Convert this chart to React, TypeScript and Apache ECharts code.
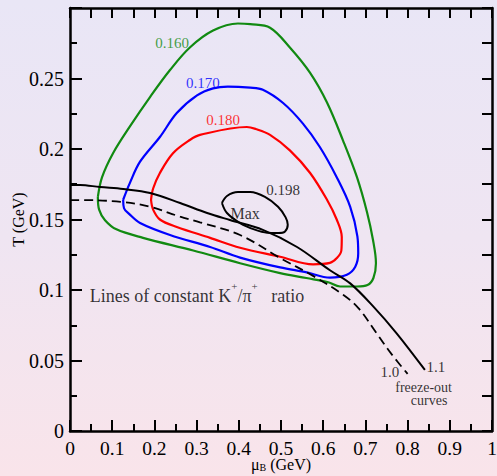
import React, { useEffect, useRef } from "react";
import * as echarts from "echarts";

type Pt = [number, number];

// Lines of constant K+/pi+ ratio in the (mu_B, T) plane, in GeV
const ratio0160: Pt[] = [
  [0.066, 0.166], [0.076, 0.18], [0.102, 0.197], [0.142, 0.216], [0.19, 0.237],
  [0.237, 0.256], [0.284, 0.272], [0.339, 0.284], [0.398, 0.289], [0.427, 0.2885],
  [0.474, 0.286], [0.521, 0.272], [0.569, 0.254], [0.609, 0.233], [0.647, 0.206],
  [0.68, 0.18], [0.704, 0.155], [0.718, 0.1355], [0.725, 0.119], [0.719, 0.1085],
  [0.705, 0.1035], [0.68, 0.1025], [0.64, 0.1025], [0.612, 0.1055], [0.56, 0.1085],
  [0.498, 0.112], [0.403, 0.119], [0.292, 0.128], [0.173, 0.137], [0.11, 0.143],
  [0.083, 0.1495], [0.069, 0.157], [0.066, 0.166],
];
const ratio0170: Pt[] = [
  [0.126, 0.164], [0.142, 0.176], [0.166, 0.191], [0.213, 0.2085], [0.253, 0.2255],
  [0.301, 0.238], [0.339, 0.243], [0.374, 0.2443], [0.427, 0.2435], [0.457, 0.242],
  [0.505, 0.2326], [0.552, 0.218], [0.592, 0.2014], [0.632, 0.18], [0.664, 0.159],
  [0.681, 0.138], [0.683, 0.126], [0.676, 0.1165], [0.656, 0.1108], [0.616, 0.1088],
  [0.561, 0.1125], [0.498, 0.116], [0.403, 0.123], [0.332, 0.1305], [0.237, 0.139],
  [0.166, 0.1475], [0.14, 0.154], [0.128, 0.158], [0.126, 0.164],
];
const ratio0180: Pt[] = [
  [0.192, 0.164], [0.197, 0.172], [0.213, 0.183], [0.244, 0.197], [0.284, 0.2064],
  [0.308, 0.21], [0.419, 0.2156], [0.44, 0.2142], [0.474, 0.21], [0.521, 0.199],
  [0.569, 0.183], [0.609, 0.164], [0.632, 0.15], [0.644, 0.1376], [0.643, 0.128],
  [0.633, 0.1228], [0.616, 0.1192], [0.576, 0.1182], [0.498, 0.1236], [0.403, 0.13],
  [0.332, 0.137], [0.253, 0.1447], [0.213, 0.15], [0.197, 0.157], [0.192, 0.164],
];
const ratio0198: Pt[] = [
  [0.36, 0.1617], [0.372, 0.1667], [0.398, 0.1695], [0.427, 0.1695], [0.462, 0.166],
  [0.493, 0.159], [0.511, 0.1515], [0.516, 0.1462], [0.509, 0.1414], [0.494, 0.1404],
  [0.467, 0.1406], [0.438, 0.1428], [0.403, 0.1475], [0.372, 0.1546], [0.36, 0.1617],
];

// Freeze-out curves
const freezeOut11: Pt[] = [
  [0, 0.1745], [0.024, 0.1745], [0.071, 0.173], [0.126, 0.1716], [0.19, 0.1688],
  [0.261, 0.1617], [0.325, 0.1546], [0.379, 0.1496], [0.457, 0.1426], [0.538, 0.1305],
  [0.616, 0.114], [0.664, 0.1047], [0.719, 0.0882], [0.774, 0.0693], [0.841, 0.0433],
];
const freezeOut10: Pt[] = [
  [0, 0.1638], [0.024, 0.1638], [0.126, 0.1624], [0.19, 0.159], [0.261, 0.152],
  [0.308, 0.148], [0.403, 0.139], [0.498, 0.1227], [0.576, 0.11], [0.648, 0.0965],
  [0.684, 0.087], [0.726, 0.0695], [0.762, 0.0545], [0.8, 0.0405],
];

// Text anchors (mu_B, T)
const contourLabels: [string, number, number][] = [
  ["0.160", 0.242, 0.275],
  ["0.170", 0.315, 0.247],
  ["0.180", 0.363, 0.2206],
  ["0.198", 0.505, 0.171],
];
const maxLabel: [string, number, number] = ["Max", 0.415, 0.1546];
const curveLabels: [string, number, number][] = [
  ["1.0", 0.758, 0.0418],
  ["1.1", 0.867, 0.0454],
  ["freeze-out", 0.838, 0.0312],
  ["curves", 0.851, 0.0213],
];
const ratioTitleAnchor: Pt = [0.047, 0.0979];

const SERIF = "Times New Roman, Liberation Serif, serif";
const GREEN = "#118a11";
const BLUE = "#0000ff";
const RED = "#ff0000";
const BLACK = "#000000";
const contourColors = [GREEN, BLUE, RED, BLACK];

export default function App() {
  const ref = useRef<HTMLDivElement>(null);

  useEffect(() => {
    if (!ref.current) return;
    const chart = echarts.init(ref.current, undefined, { renderer: "svg" });

    const axisLine = { show: true, onZero: false, lineStyle: { color: BLACK, width: 2.5 } };
    const tickStyle = { color: BLACK, width: 2 };

    const lineSeries = (data: Pt[], color: string, width: number, dashed = false) => ({
      type: "line",
      data,
      showSymbol: false,
      smooth: 0.35,
      silent: true,
      lineStyle: { color, width, type: dashed ? [9, 5] : "solid" },
      z: 3,
    });

    const textItem = (t: [string, number, number], color: string, size: number) => ({
      value: [t[1], t[2]],
      label: {
        show: true,
        position: "inside",
        formatter: t[0],
        color,
        fontSize: size,
        lineHeight: size,
        align: "center",
        fontFamily: SERIF,
      },
    });

    chart.setOption({
      animation: false,
      backgroundColor: "transparent",
      textStyle: { fontFamily: SERIF },
      grid: { left: 70, right: 5, top: 8, bottom: 45, containLabel: false, outerBoundsMode: "none" },
      xAxis: [
        {
          type: "value",
          min: 0,
          max: 1,
          interval: 0.1,
          position: "bottom",
          axisLine,
          axisTick: { show: true, inside: true, length: 11, lineStyle: tickStyle },
          minorTick: { show: true, splitNumber: 2, length: 7, lineStyle: tickStyle },
          splitLine: { show: false },
          axisLabel: { color: BLACK, fontSize: 19.5, lineHeight: 15, fontFamily: SERIF, margin: 10 },
          name: "{m|μ}{b|B}{g| (GeV)}",
          nameLocation: "middle",
          nameGap: 25,
          nameMoveOverlap: false,
          nameTextStyle: {
            fontFamily: SERIF,
            color: BLACK,
            rich: {
              m: { fontSize: 16, fontFamily: SERIF, lineHeight: 16, verticalAlign: "top" },
              b: { fontSize: 10, fontFamily: SERIF, lineHeight: 10, padding: [11, 0, 0, 0], verticalAlign: "bottom" },
              g: { fontSize: 16, fontFamily: SERIF, lineHeight: 16, verticalAlign: "top" },
            },
          },
        },
        {
          type: "value",
          min: 0,
          max: 1,
          interval: 0.05,
          position: "top",
          axisLine,
          axisTick: { show: true, inside: true, length: 10, lineStyle: tickStyle },
          splitLine: { show: false },
          axisLabel: { show: false },
        },
      ],
      yAxis: [
        {
          type: "value",
          min: 0,
          max: 0.3,
          interval: 0.05,
          position: "left",
          axisLine,
          axisTick: { show: true, inside: true, length: 12, lineStyle: tickStyle },
          minorTick: { show: true, splitNumber: 2, length: 7, lineStyle: tickStyle },
          splitLine: { show: false },
          axisLabel: { color: BLACK, fontSize: 20, fontFamily: SERIF, margin: 6, showMaxLabel: false },
          name: "T (GeV)",
          nameLocation: "middle",
          nameGap: 44,
          nameMoveOverlap: false,
          nameTextStyle: { fontFamily: SERIF, fontSize: 16, color: BLACK },
        },
        {
          type: "value",
          min: 0,
          max: 0.3,
          interval: 0.025,
          position: "right",
          axisLine,
          axisTick: { show: true, inside: true, length: 10, lineStyle: tickStyle },
          splitLine: { show: false },
          axisLabel: { show: false },
        },
      ],
      series: [
        lineSeries(ratio0160, GREEN, 2.2),
        lineSeries(ratio0170, BLUE, 2.2),
        lineSeries(ratio0180, RED, 2.2),
        lineSeries(ratio0198, BLACK, 2),
        lineSeries(freezeOut11, BLACK, 2),
        lineSeries(freezeOut10, BLACK, 1.8, true),
        {
          type: "scatter",
          symbolSize: 0,
          silent: true,
          z: 5,
          data: [
            ...contourLabels.map((t, i) => textItem(t, contourColors[i], 15)),
            textItem(maxLabel, BLACK, 16),
            textItem(curveLabels[0], BLACK, 15),
            textItem(curveLabels[1], BLACK, 15),
            textItem(curveLabels[2], BLACK, 14),
            textItem(curveLabels[3], BLACK, 14),
            {
              value: ratioTitleAnchor,
              label: {
                show: true,
                position: "right",
                distance: 0,
                formatter: "{a|Lines of constant K}{s|+}{a|/π}{s|+}{a|   ratio}",
                rich: {
                  a: { fontSize: 18, fontFamily: SERIF, color: BLACK, lineHeight: 24, verticalAlign: "bottom" },
                  s: { fontSize: 11, fontFamily: SERIF, color: BLACK, lineHeight: 12, verticalAlign: "top" },
                },
              },
            },
          ],
        },
      ],
    });

    return () => chart.dispose();
  }, []);

  return (
    <div
      style={{
        position: "fixed",
        left: 0,
        top: 0,
        width: 497,
        height: 476,
        background: "linear-gradient(180deg, #e9e6f6 0%, #efe5f2 50%, #f9e4ea 100%)",
      }}
    >
      <div ref={ref} style={{ width: 497, height: 476 }} />
    </div>
  );
}
